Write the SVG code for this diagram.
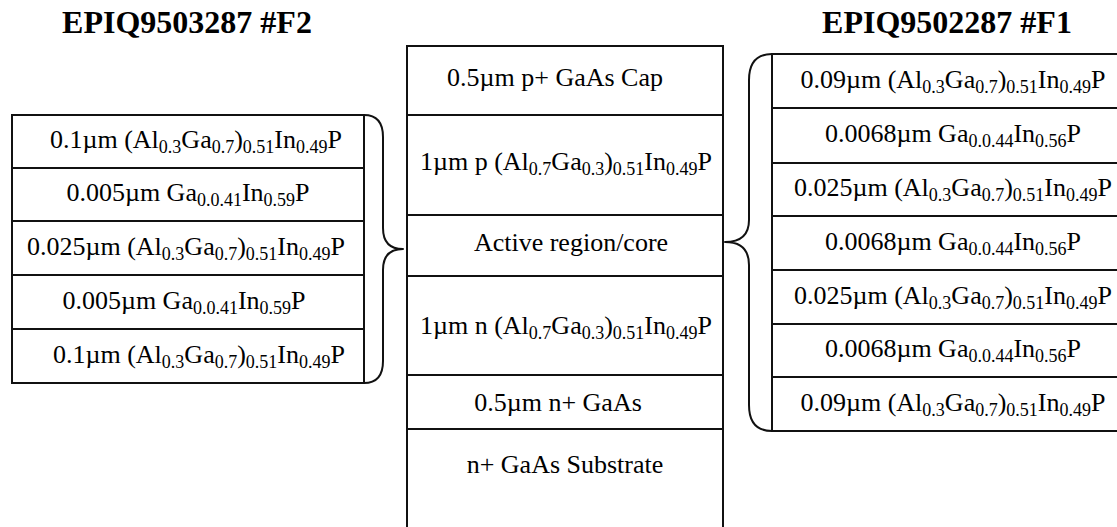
<svg xmlns="http://www.w3.org/2000/svg" width="1117" height="527" viewBox="0 0 1117 527">
<style>
.box{fill:#fff;stroke:#111;stroke-width:2}
.ln{stroke:#111;stroke-width:2;fill:none}
.br{stroke:#111;stroke-width:2;fill:none;stroke-linejoin:round}
.t{font-family:"Liberation Serif","Times New Roman",serif;font-size:26px;text-anchor:middle;fill:#000}
.s{font-size:18px}
.h{font-family:"Liberation Serif","Times New Roman",serif;font-size:32px;font-weight:bold;text-anchor:middle;fill:#000}
</style>
<rect width="1117" height="527" fill="#fff"/>
<g id="titles">
<text class="h" x="187" y="33">EPIQ9503287 #F2</text>
<text class="h" x="947" y="33">EPIQ9502287 #F1</text>
</g>
<g id="center-stack">
<rect class="box" x="407" y="46" width="316" height="500"/>
<line class="ln" x1="407" y1="115" x2="723" y2="115"/>
<line class="ln" x1="407" y1="215" x2="723" y2="215"/>
<line class="ln" x1="407" y1="276" x2="723" y2="276"/>
<line class="ln" x1="407" y1="375" x2="723" y2="375"/>
<line class="ln" x1="407" y1="429" x2="723" y2="429"/>
<text class="t" x="555" y="86">0.5µm p+ GaAs Cap</text>
<text class="t" x="566" y="170">1µm p (Al<tspan class="s" dy="5">0.7</tspan><tspan dy="-5">Ga</tspan><tspan class="s" dy="5">0.3</tspan><tspan dy="-5">)</tspan><tspan class="s" dy="5">0.51</tspan><tspan dy="-5">In</tspan><tspan class="s" dy="5">0.49</tspan><tspan dy="-5">P</tspan></text>
<text class="t" x="571" y="251">Active region/core</text>
<text class="t" x="566" y="334">1µm n (Al<tspan class="s" dy="5">0.7</tspan><tspan dy="-5">Ga</tspan><tspan class="s" dy="5">0.3</tspan><tspan dy="-5">)</tspan><tspan class="s" dy="5">0.51</tspan><tspan dy="-5">In</tspan><tspan class="s" dy="5">0.49</tspan><tspan dy="-5">P</tspan></text>
<text class="t" x="558" y="411">0.5µm n+ GaAs</text>
<text class="t" x="565" y="473">n+ GaAs Substrate</text>
</g>
<g id="f2-stack">
<rect class="box" x="12" y="115" width="352" height="268"/>
<line class="ln" x1="12" y1="168" x2="364" y2="168"/>
<line class="ln" x1="12" y1="221" x2="364" y2="221"/>
<line class="ln" x1="12" y1="275" x2="364" y2="275"/>
<line class="ln" x1="12" y1="329" x2="364" y2="329"/>
<text class="t" x="196" y="148">0.1µm (Al<tspan class="s" dy="5">0.3</tspan><tspan dy="-5">Ga</tspan><tspan class="s" dy="5">0.7</tspan><tspan dy="-5">)</tspan><tspan class="s" dy="5">0.51</tspan><tspan dy="-5">In</tspan><tspan class="s" dy="5">0.49</tspan><tspan dy="-5">P</tspan></text>
<text class="t" x="188" y="201">0.005µm Ga<tspan class="s" dy="5">0.0.41</tspan><tspan dy="-5">In</tspan><tspan class="s" dy="5">0.59</tspan><tspan dy="-5">P</tspan></text>
<text class="t" x="186" y="255">0.025µm (Al<tspan class="s" dy="5">0.3</tspan><tspan dy="-5">Ga</tspan><tspan class="s" dy="5">0.7</tspan><tspan dy="-5">)</tspan><tspan class="s" dy="5">0.51</tspan><tspan dy="-5">In</tspan><tspan class="s" dy="5">0.49</tspan><tspan dy="-5">P</tspan></text>
<text class="t" x="184" y="309">0.005µm Ga<tspan class="s" dy="5">0.0.41</tspan><tspan dy="-5">In</tspan><tspan class="s" dy="5">0.59</tspan><tspan dy="-5">P</tspan></text>
<text class="t" x="199" y="363">0.1µm (Al<tspan class="s" dy="5">0.3</tspan><tspan dy="-5">Ga</tspan><tspan class="s" dy="5">0.7</tspan><tspan dy="-5">)</tspan><tspan class="s" dy="5">0.51</tspan><tspan dy="-5">In</tspan><tspan class="s" dy="5">0.49</tspan><tspan dy="-5">P</tspan></text>
</g>
<g id="f1-stack">
<rect class="box" x="772" y="54" width="400" height="377"/>
<line class="ln" x1="772" y1="108" x2="1117" y2="108"/>
<line class="ln" x1="772" y1="163" x2="1117" y2="163"/>
<line class="ln" x1="772" y1="216" x2="1117" y2="216"/>
<line class="ln" x1="772" y1="270" x2="1117" y2="270"/>
<line class="ln" x1="772" y1="324" x2="1117" y2="324"/>
<line class="ln" x1="772" y1="377" x2="1117" y2="377"/>
<text class="t" x="953" y="88">0.09µm (Al<tspan class="s" dy="5">0.3</tspan><tspan dy="-5">Ga</tspan><tspan class="s" dy="5">0.7</tspan><tspan dy="-5">)</tspan><tspan class="s" dy="5">0.51</tspan><tspan dy="-5">In</tspan><tspan class="s" dy="5">0.49</tspan><tspan dy="-5">P</tspan></text>
<text class="t" x="953" y="142">0.0068µm Ga<tspan class="s" dy="5">0.0.44</tspan><tspan dy="-5">In</tspan><tspan class="s" dy="5">0.56</tspan><tspan dy="-5">P</tspan></text>
<text class="t" x="953" y="196">0.025µm (Al<tspan class="s" dy="5">0.3</tspan><tspan dy="-5">Ga</tspan><tspan class="s" dy="5">0.7</tspan><tspan dy="-5">)</tspan><tspan class="s" dy="5">0.51</tspan><tspan dy="-5">In</tspan><tspan class="s" dy="5">0.49</tspan><tspan dy="-5">P</tspan></text>
<text class="t" x="953" y="250">0.0068µm Ga<tspan class="s" dy="5">0.0.44</tspan><tspan dy="-5">In</tspan><tspan class="s" dy="5">0.56</tspan><tspan dy="-5">P</tspan></text>
<text class="t" x="953" y="304">0.025µm (Al<tspan class="s" dy="5">0.3</tspan><tspan dy="-5">Ga</tspan><tspan class="s" dy="5">0.7</tspan><tspan dy="-5">)</tspan><tspan class="s" dy="5">0.51</tspan><tspan dy="-5">In</tspan><tspan class="s" dy="5">0.49</tspan><tspan dy="-5">P</tspan></text>
<text class="t" x="953" y="357">0.0068µm Ga<tspan class="s" dy="5">0.0.44</tspan><tspan dy="-5">In</tspan><tspan class="s" dy="5">0.56</tspan><tspan dy="-5">P</tspan></text>
<text class="t" x="953" y="411">0.09µm (Al<tspan class="s" dy="5">0.3</tspan><tspan dy="-5">Ga</tspan><tspan class="s" dy="5">0.7</tspan><tspan dy="-5">)</tspan><tspan class="s" dy="5">0.51</tspan><tspan dy="-5">In</tspan><tspan class="s" dy="5">0.49</tspan><tspan dy="-5">P</tspan></text>
</g>
<g id="connectors">
<path class="br" d="M364,115 Q383,115 383,137 L383,228 Q383,249 403,249 Q383,249 383,270 L383,361 Q383,383 364,383"/>
<path class="br" d="M772,54 Q749,54 749,80 L749,220 Q749,242 725,242 Q749,242 749,265 L749,405 Q749,431 772,431"/>
</g>
</svg>
